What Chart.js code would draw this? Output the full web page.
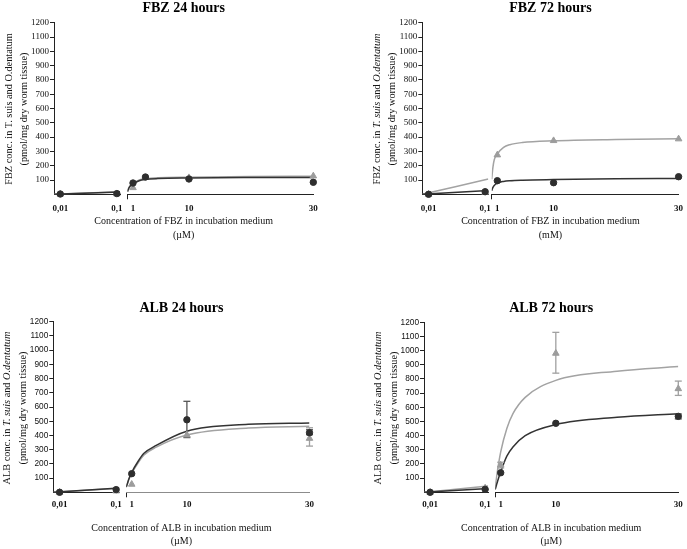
<!DOCTYPE html>
<html><head><meta charset="utf-8">
<script src="https://cdn.jsdelivr.net/npm/chart.js@4/dist/chart.umd.min.js"></script>
<style>
html,body{margin:0;padding:0;background:#fff;}
#wrap{position:relative;width:687px;height:549px;overflow:hidden;background:#fff;}
canvas{position:absolute;}
.yt{position:absolute;white-space:nowrap;font-family:'Liberation Serif','Times New Roman',serif;font-size:10.3px;color:#111;transform:translate(-50%,-50%) rotate(-90deg);line-height:1;}
</style></head><body>
<div id="wrap">
<canvas id="c1" width="343" height="274" style="left:0;top:0"></canvas>
<canvas id="c2" width="343" height="274" style="left:344px;top:0"></canvas>
<canvas id="c3" width="343" height="274" style="left:0;top:275px"></canvas>
<canvas id="c4" width="343" height="274" style="left:344px;top:275px"></canvas>
<div class="yt" style="left:9.3px;top:109px">FBZ conc. in T. suis and O.dentatum</div>
<div class="yt" style="left:24px;top:109px">(pmol/mg dry worm tissue)</div>
<div class="yt" style="left:376.7px;top:108.5px">FBZ conc. in <i>T. suis</i> and <i>O.dentatum</i></div>
<div class="yt" style="left:391.7px;top:108.5px">(pmol/mg dry worm tissue)</div>
<div class="yt" style="left:7.3px;top:407.5px">ALB conc. in <i>T. suis</i> and <i>O.dentatum</i></div>
<div class="yt" style="left:22.7px;top:407.5px">(pmol/mg dry worm tissue)</div>
<div class="yt" style="left:378.3px;top:407.5px">ALB conc. in <i>T. suis</i> and <i>O.dentatum</i></div>
<div class="yt" style="left:394.3px;top:407.5px">(pmpl/mg dry worm tissue)</div>
</div>
<script>
// ---------- shared axis data ----------
const markerConcLeft = [0.01, 0.1];
const fitConcLeft = [0, 0.105];
const fitConcRight = [0.1, 0.3, 0.5, 1, 2, 3, 5, 10, 20, 30];
const xTickValuesLeft = [0.01, 0.1];
const xTickLabelsLeft = ['0,01', '0,1'];
const xTickValuesRight = [1, 10, 30];
const xTickLabelsRight = ['1', '10', '30'];
const yTickValues = [100, 200, 300, 400, 500, 600, 700, 800, 900, 1000, 1100, 1200];
const yTickLabels = ['100', '200', '300', '400', '500', '600', '700', '800', '900', '1000', '1100', '1200'];
const xLeftRange = [0, 0.105];
const xRightRange = [0.1, 30];
const yRange = [0, 1200];

// ---------- FBZ 24 hours ----------
const fbz24DarkLeft = [2, 5];
const fbz24GrayLeft = [1, 3];
const fbz24DarkConc = [1, 3, 10, 30];
const fbz24Dark = [79, 121, 107, 84];
const fbz24GrayConc = [1, 10, 30];
const fbz24Gray = [46, 116, 128];
const fbz24DarkFitLeft = [0, 16];
const fbz24GrayFitLeft = [0, 18];
const fbz24DarkFit = [18, 40, 55, 72, 95, 104, 110, 114, 117, 118];
const fbz24GrayFit = [20, 42, 58, 76, 100, 109, 116, 120, 124, 126];

// ---------- FBZ 72 hours ----------
const fbz72DarkLeft = [0, 18];
const fbz72GrayLeft = [0, 14];
const fbz72DarkConc = [1, 10, 30];
const fbz72Dark = [95, 81, 123];
const fbz72GrayConc = [1, 10, 30];
const fbz72Gray = [275, 375, 387];
const fbz72DarkFitLeft = [0, 27];
const fbz72GrayFitLeft = [0, 107];
const fbz72DarkFit = [25, 48, 62, 78, 90, 95, 99, 103, 108, 111];
const fbz72GrayFit = [105, 190, 240, 282, 328, 347, 362, 374, 383, 388];

// ---------- ALB 24 hours ----------
const alb24DarkLeft = [0, 19];
const alb24GrayLeft = [0, 9];
const alb24DarkConc = [1, 10, 30];
const alb24Dark = [131, 510, 419];
const alb24GrayConc = [1, 10, 30];
const alb24Gray = [56, 403, 379];
const alb24DarkErrConc = [10, 30];
const alb24DarkErrLow = [385, 405];
const alb24DarkErrHigh = [640, 440];
const alb24GrayErrConc = [30];
const alb24GrayErrLow = [325];
const alb24GrayErrHigh = [454];
const alb24DarkFitLeft = [0, 30];
const alb24GrayFitLeft = [0, 28];
const alb24DarkFit = [38, 62, 90, 140, 215, 274, 330, 430, 478, 488];
const alb24GrayFit = [35, 60, 86, 133, 204, 262, 318, 403, 452, 464];

// ---------- ALB 72 hours ----------
const alb72DarkLeft = [0, 21];
const alb72GrayLeft = [0, 30];
const alb72DarkConc = [1, 10, 30];
const alb72Dark = [138, 487, 536];
const alb72GrayConc = [1, 10, 30];
const alb72Gray = [192, 981, 731];
const alb72DarkErrConc = [30];
const alb72DarkErrLow = [518];
const alb72DarkErrHigh = [553];
const alb72GrayErrConc = [1, 10, 30];
const alb72GrayErrLow = [172, 841, 684];
const alb72GrayErrHigh = [212, 1129, 785];
const alb72DarkFitLeft = [0, 26];
const alb72GrayFitLeft = [0, 44];
const alb72DarkFit = [20, 50, 80, 145, 255, 320, 400, 478, 530, 555];
const alb72GrayFit = [40, 100, 160, 285, 450, 555, 670, 790, 855, 888];

// ---------- drawing ----------
const DARK = '#2e2e2e';
const GRAY = '#9c9c9c';
const AXIS = '#222';
const SERIF = "'Liberation Serif', 'Times New Roman', serif";
const SANS = "'Liberation Sans', Arial, sans-serif";

function pts(xs, ys) { return xs.map((x, i) => ({ x: x, y: ys[i] })); }

function markerSet(xs, ys, axis, dark) {
  return {
    data: pts(xs, ys), xAxisID: axis, showLine: false, clip: false,
    pointStyle: dark ? 'circle' : 'triangle',
    pointRadius: dark ? 3.2 : 3.8,
    pointBackgroundColor: dark ? DARK : GRAY,
    pointBorderColor: dark ? DARK : GRAY,
    pointBorderWidth: 1
  };
}
function fitSet(xs, ys, axis, dark) {
  return {
    data: pts(xs, ys), xAxisID: axis, showLine: true, pointRadius: 0,
    borderColor: dark ? '#333' : '#a3a3a3', borderWidth: 1.5,
    cubicInterpolationMode: 'monotone', fill: false
  };
}
function errSets(xs, lo, hi, dark) {
  return xs.map((x, i) => ({
    data: [{ x: x, y: lo[i] }, { x: x, y: hi[i] }], xAxisID: 'xR', showLine: true, clip: false,
    borderColor: dark ? '#555' : '#a0a0a0', borderWidth: 1.3,
    pointStyle: 'line', pointRadius: 3.5, pointBorderWidth: 1.3,
    pointBorderColor: dark ? '#555' : '#a0a0a0', pointBackgroundColor: 'rgba(0,0,0,0)'
  }));
}

function makePanel(id, p, L) {
  const datasets = [
    markerSet(markerConcLeft, p.darkLeft, 'xL', true),
    markerSet(markerConcLeft, p.grayLeft, 'xL', false),
    markerSet(p.darkConc, p.dark, 'xR', true),
    markerSet(p.grayConc, p.gray, 'xR', false)
  ]
  .concat(p.darkErr ? errSets(p.darkErr[0], p.darkErr[1], p.darkErr[2], true) : [])
  .concat(p.grayErr ? errSets(p.grayErr[0], p.grayErr[1], p.grayErr[2], false) : [])
  .concat([
    fitSet(fitConcLeft, p.darkFitLeft, 'xL', true),
    fitSet(fitConcLeft, p.grayFitLeft, 'xL', false),
    fitSet(fitConcRight, p.darkFit, 'xR', true),
    fitSet(fitConcRight, p.grayFit, 'xR', false)
  ]);

  const xTickFont = { family: SERIF, size: 9, weight: 'bold' };
  new Chart(document.getElementById(id), {
    type: 'line',
    data: { datasets: datasets },
    options: {
      responsive: false, animation: false, events: [],
      layout: { padding: { left: 0, top: L.padTop, right: L.padRight, bottom: L.padBottom } },
      plugins: {
        legend: { display: false }, tooltip: { enabled: false },
        title: {
          display: true, text: p.title, fullSize: false, color: '#000',
          font: { family: SERIF, size: 14, weight: 'bold', lineHeight: 1.2 },
          padding: { top: 0, bottom: L.titlePadBottom }
        },
        subtitle: {
          display: true, position: 'bottom', text: p.xTitle, fullSize: false, color: '#111',
          font: { family: SERIF, size: 10, weight: 'normal', lineHeight: 1.35 },
          padding: { top: L.subPadTop, bottom: 0 }
        }
      },
      scales: {
        y: {
          type: 'linear', position: 'left', min: yRange[0], max: yRange[1],
          afterBuildTicks: s => { s.ticks = yTickValues.map(v => ({ value: v })); },
          afterFit: s => { s.width = L.yW; },
          ticks: {
            callback: v => { const i = yTickValues.indexOf(v); return i >= 0 ? yTickLabels[i] : ''; },
            font: { family: p.yFont, size: p.yFontSize }, color: '#111', padding: 1, autoSkip: false
          },
          grid: { drawOnChartArea: false, tickLength: 4, tickColor: AXIS, tickWidth: 1 },
          border: { color: AXIS, width: 1 }
        },
        xL: {
          type: 'linear', position: 'bottom', stack: 'bx', stackWeight: L.w[0],
          min: xLeftRange[0], max: xLeftRange[1],
          afterBuildTicks: s => { s.ticks = xTickValuesLeft.map(v => ({ value: v })); },
          afterFit: s => { s.height = 20; },
          ticks: {
            callback: v => { const i = xTickValuesLeft.indexOf(v); return i >= 0 ? xTickLabelsLeft[i] : ''; },
            font: xTickFont, color: '#111', padding: L.xTickPad, autoSkip: false, maxRotation: 0
          },
          grid: { drawOnChartArea: false, tickLength: 5, tickColor: 'rgba(0,0,0,0)' },
          border: { color: AXIS, width: 1 }
        },
        xGap: {
          type: 'linear', position: 'bottom', stack: 'bx', stackWeight: L.w[1],
          afterFit: s => { s.height = 20; },
          ticks: { display: false }, grid: { display: false }, border: { display: false }
        },
        xR: {
          type: 'linear', position: 'bottom', stack: 'bx', stackWeight: L.w[2],
          min: xRightRange[0], max: xRightRange[1],
          afterBuildTicks: s => { s.ticks = [xRightRange[0]].concat(xTickValuesRight).map(v => ({ value: v })); },
          afterFit: s => { s.height = 20; },
          ticks: {
            callback: v => { const i = xTickValuesRight.indexOf(v); return i >= 0 ? xTickLabelsRight[i] : ''; },
            font: xTickFont, color: '#111', padding: L.xTickPad, autoSkip: false, maxRotation: 0
          },
          grid: {
            drawOnChartArea: false, tickLength: 5,
            tickColor: ctx => (ctx.tick && ctx.tick.value === xRightRange[0]) ? AXIS : 'rgba(0,0,0,0)'
          },
          border: { color: p.rightAxisColor || AXIS, width: 1 }
        }
      }
    }
  });
}

const topLayout = { padTop: 0, titlePadBottom: 5.9, xTickPad: 3.6, subPadTop: 0.65, padBottom: 32.05 };
const botLayout = { padTop: 24.6, titlePadBottom: 5.3, xTickPad: 2.3, subPadTop: 8.95, padBottom: 0.75 };

makePanel('c1', {
  title: 'FBZ 24 hours', xTitle: ['Concentration of FBZ in incubation medium', '(\u00b5M)'],
  yFont: SERIF, yFontSize: 9,
  darkLeft: fbz24DarkLeft, grayLeft: fbz24GrayLeft,
  darkConc: fbz24DarkConc, dark: fbz24Dark, grayConc: fbz24GrayConc, gray: fbz24Gray,
  darkFitLeft: fbz24DarkFitLeft, grayFitLeft: fbz24GrayFitLeft, darkFit: fbz24DarkFit, grayFit: fbz24GrayFit
}, Object.assign({ yW: 54, w: [66, 7.4, 185.9], padRight: 29.7 }, topLayout));

makePanel('c2', {
  title: 'FBZ 72 hours', xTitle: ['Concentration of FBZ in incubation medium', '(mM)'],
  yFont: SERIF, yFontSize: 9,
  darkLeft: fbz72DarkLeft, grayLeft: fbz72GrayLeft,
  darkConc: fbz72DarkConc, dark: fbz72Dark, grayConc: fbz72GrayConc, gray: fbz72Gray,
  darkFitLeft: fbz72DarkFitLeft, grayFitLeft: fbz72GrayFitLeft, darkFit: fbz72DarkFit, grayFit: fbz72GrayFit
}, Object.assign({ yW: 78.3, w: [66, 3.4, 186.9], padRight: 8.4 }, topLayout));

makePanel('c3', {
  title: 'ALB 24 hours', xTitle: ['Concentration of ALB in incubation medium', '(\u00b5M)'],
  yFont: SANS, yFontSize: 8.3, rightAxisColor: '#8c8c8c',
  darkLeft: alb24DarkLeft, grayLeft: alb24GrayLeft,
  darkConc: alb24DarkConc, dark: alb24Dark, grayConc: alb24GrayConc, gray: alb24Gray,
  darkErr: [alb24DarkErrConc, alb24DarkErrLow, alb24DarkErrHigh],
  grayErr: [alb24GrayErrConc, alb24GrayErrLow, alb24GrayErrHigh],
  darkFitLeft: alb24DarkFitLeft, grayFitLeft: alb24GrayFitLeft, darkFit: alb24DarkFit, grayFit: alb24GrayFit
}, Object.assign({ yW: 53.3, w: [66, 6.9, 183.3], padRight: 33.5 }, botLayout));

makePanel('c4', {
  title: 'ALB 72 hours', xTitle: ['Concentration of ALB in incubation medium', '(\u00b5M)'],
  yFont: SANS, yFontSize: 8.3,
  darkLeft: alb72DarkLeft, grayLeft: alb72GrayLeft,
  darkConc: alb72DarkConc, dark: alb72Dark, grayConc: alb72GrayConc, gray: alb72Gray,
  darkErr: [alb72DarkErrConc, alb72DarkErrLow, alb72DarkErrHigh],
  grayErr: [alb72GrayErrConc, alb72GrayErrLow, alb72GrayErrHigh],
  darkFitLeft: alb72DarkFitLeft, grayFitLeft: alb72GrayFitLeft, darkFit: alb72DarkFit, grayFit: alb72GrayFit
}, Object.assign({ yW: 80, w: [64.2, 7, 183.1], padRight: 8.7 }, botLayout, { titlePadBottom: 5.9 }));
</script>
</body></html>
